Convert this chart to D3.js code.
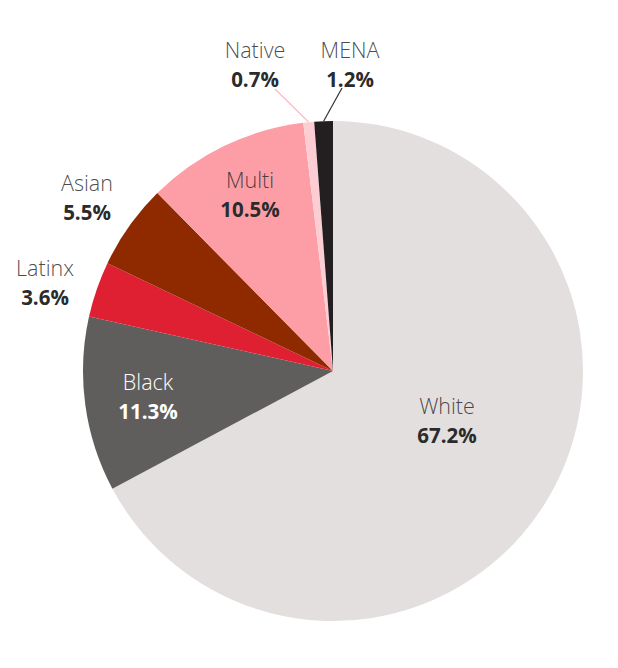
<!DOCTYPE html>
<html>
<head>
<meta charset="utf-8">
<script src="https://cdn.jsdelivr.net/npm/d3@7"></script>
<style>
  body { margin: 0; background: #fff; }
  text { font-family: "Open Sans", "Noto Sans", sans-serif; }
</style>
</head>
<body>
<script>
let categories = ["White", "Black", "Latinx", "Asian", "Multi", "Native", "MENA"];
let values = [67.2, 11.3, 3.6, 5.5, 10.5, 0.7, 1.2];
let colors = ["#e3dfdf", "#5f5e5d", "#df2032", "#8f2a00", "#fd9ea7", "#fccdd2", "#231f20"];
// label anchor points (x, y of name line)
let labelPos = [[447, 414], [148, 390], [45, 276], [87, 191], [250, 188], [255, 58], [350, 58]];
let labelColor = ["#2b2b2b", "#ffffff", "#2b2b2b", "#2b2b2b", "#2b2b2b", "#2b2b2b", "#2b2b2b"];

let size = {width: 618, height: 668};
let center = {x: 333, y: 371};
let radius = 250;

let svg = d3.select("body").append("svg")
    .attr("width", size.width)
    .attr("height", size.height);

let data = categories.map((c, i) => ({name: c, value: values[i], color: colors[i]}));

let pie = d3.pie()
    .sort(null)
    .value(d => d.value);

let arc = d3.arc()
    .innerRadius(0)
    .outerRadius(radius);

let arcs = pie(data);

let g = svg.append("g")
    .attr("transform", `translate(${center.x},${center.y})`);

g.selectAll("path")
    .data(arcs)
    .join("path")
    .attr("fill", d => d.data.color)
    .attr("d", arc);

// leader lines for the two small slices
let outer = d3.arc().innerRadius(radius).outerRadius(radius);
let leaders = [{i: 5, end: [275, 89], stroke: "#fbb7bf"}, {i: 6, end: [342, 88], stroke: "#333"}];
leaders.forEach(l => {
    let p = outer.centroid(arcs[l.i]);
    svg.append("line")
        .attr("x1", center.x + p[0])
        .attr("y1", center.y + p[1])
        .attr("x2", l.end[0])
        .attr("y2", l.end[1])
        .attr("stroke", l.stroke)
        .attr("stroke-width", 1.2);
});

let labels = svg.selectAll("g.label")
    .data(data)
    .join("g")
    .attr("class", "label")
    .attr("transform", (d, i) => `translate(${labelPos[i][0]},${labelPos[i][1]})`)
    .attr("text-anchor", "middle")
    .attr("fill", (d, i) => labelColor[i]);

labels.append("text")
    .attr("font-size", 21.5)
    .attr("font-weight", 300)
    .attr("fill-opacity", (d, i) => i === 1 ? 1 : 0.85)
    .text(d => d.name);

labels.append("text")
    .attr("y", 29)
    .attr("font-size", 20.5)
    .attr("font-weight", "bold")
    .text(d => d.value.toFixed(1) + "%");
</script>
</body>
</html>
